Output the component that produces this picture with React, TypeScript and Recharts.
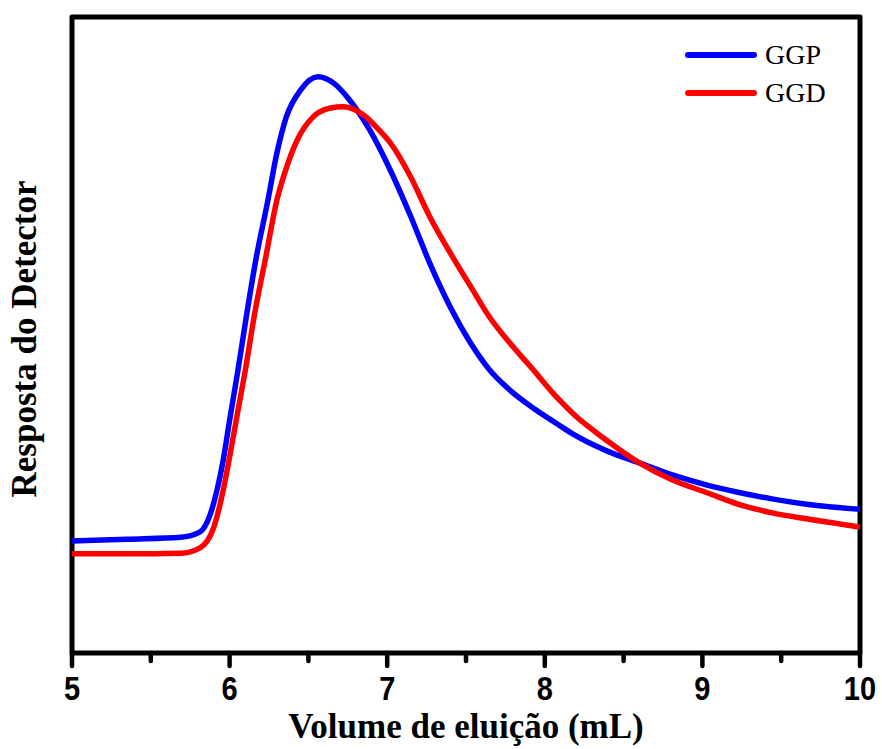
import { LineChart, Line, XAxis, YAxis, ReferenceArea, Legend } from 'recharts';

// GGP (blue) - elution volume (mL) vs detector response (arb. units)
const ggpVolume = [5.0, 5.35, 5.69, 5.81, 5.88, 5.92, 5.96, 6.0, 6.05, 6.11, 6.17, 6.24, 6.3, 6.36, 6.45, 6.56, 6.66, 6.76, 6.89, 7.02, 7.15, 7.27, 7.4, 7.53, 7.65, 7.78, 7.91, 8.08, 8.18, 8.4, 8.6, 8.81, 9.03, 9.24, 9.45, 9.66, 10.0];
const ggpResponse = [17.6, 17.9, 18.2, 19.0, 22.0, 25.6, 30.4, 36.6, 44.0, 53.5, 62.3, 70.8, 78.6, 84.3, 88.5, 90.6, 89.6, 87.0, 82.2, 75.9, 68.6, 61.3, 54.4, 48.7, 44.5, 41.3, 38.8, 36.0, 34.4, 31.7, 29.9, 28.0, 26.4, 25.2, 24.2, 23.4, 22.6];

// GGD (red)
const ggdVolume = [5.0, 5.35, 5.69, 5.81, 5.9, 5.95, 6.0, 6.05, 6.1, 6.16, 6.23, 6.3, 6.35, 6.43, 6.53, 6.64, 6.72, 6.85, 6.95, 7.02, 7.15, 7.27, 7.4, 7.53, 7.65, 7.78, 7.91, 8.08, 8.18, 8.4, 8.6, 8.81, 9.03, 9.24, 9.45, 9.66, 10.0];
const ggdResponse = [15.6, 15.6, 15.7, 16.5, 19.8, 24.5, 30.8, 37.7, 44.5, 53.5, 62.3, 71.2, 75.5, 80.7, 84.3, 85.7, 85.9, 84.6, 82.2, 80.2, 74.8, 68.6, 62.9, 57.6, 52.8, 48.7, 45.0, 40.1, 37.6, 33.3, 29.9, 27.2, 25.2, 23.3, 22.0, 21.1, 19.8];

const xTicks = [5, 5.5, 6, 6.5, 7, 7.5, 8, 8.5, 9, 9.5, 10];

const ggpData = ggpVolume.map((v, i) => ({ volume: v, response: ggpResponse[i] }));
const ggdData = ggdVolume.map((v, i) => ({ volume: v, response: ggdResponse[i] }));

const VolumeTick = ({ x, y, payload }: any) => {
    const major = Number.isInteger(payload.value);
    return (
        <g>
            <line x1={x} x2={x} y1={y} y2={y + (major ? 13 : 8)} stroke="#000" strokeWidth={4.5} strokeLinecap="round" />
            {major && (
                <text
                    transform={`translate(${x},${y + 47}) scale(0.88,1)`}
                    textAnchor="middle"
                    fontFamily="'Liberation Sans', Arial, sans-serif"
                    fontWeight="bold"
                    fontSize={33}
                    fill="#000"
                >
                    {payload.value}
                </text>
            )}
        </g>
    );
};

const titleFont = "'Liberation Serif', 'Times New Roman', serif";

const LegendBox = () => {
    const items = [
        { name: 'GGP', color: '#0000ff' },
        { name: 'GGD', color: '#ff0000' },
    ];
    return (
        <div>
            {items.map((it) => (
                <div key={it.name} style={{ display: 'flex', alignItems: 'center', height: 38 }}>
                    <svg width={84} height={12}>
                        <line x1={7} x2={73} y1={6} y2={6} stroke={it.color} strokeWidth={6} strokeLinecap="round" />
                    </svg>
                    <span style={{ fontFamily: titleFont, fontSize: 28, color: '#000', lineHeight: '38px' }}>
                        {it.name}
                    </span>
                </div>
            ))}
        </div>
    );
};

export default function App() {
    return (
        <div style={{ position: 'absolute', left: 0, top: 0, background: '#fff' }}>
            <LineChart width={882} height={749} margin={{ top: 17, right: 22, left: 72, bottom: 0 }}>
                <XAxis
                    dataKey="volume"
                    type="number"
                    domain={[5, 10]}
                    ticks={xTicks}
                    allowDataOverflow
                    height={96}
                    tickLine={false}
                    axisLine={false}
                    tickSize={0}
                    tickMargin={0}
                    tick={<VolumeTick />}
                    interval={0}
                    label={({ viewBox }: any) => (
                        <g>
                            <text
                                x={viewBox.x + viewBox.width / 2}
                                y={viewBox.y + 85}
                                textAnchor="middle"
                                fontFamily={titleFont}
                                fontWeight="bold"
                                fontSize={35}
                                fill="#000"
                            >
                                Volume de eluição (mL)
                            </text>
                            <text
                                transform="translate(36,339) rotate(-90)"
                                textAnchor="middle"
                                fontFamily={titleFont}
                                fontWeight="bold"
                                fontSize={35}
                                fill="#000"
                            >
                                Resposta do Detector
                            </text>
                        </g>
                    )}
                />
                <YAxis type="number" domain={[0, 100]} hide />
                <ReferenceArea x1={5} x2={10} y1={0} y2={100} fill="none" stroke="#000" strokeWidth={5} strokeLinejoin="round" ifOverflow="visible" />
                <Line data={ggpData} dataKey="response" type="monotone" stroke="#0000ff" strokeWidth={5.5} dot={false} isAnimationActive={false} name="GGP" />
                <Line data={ggdData} dataKey="response" type="monotone" stroke="#ff0000" strokeWidth={5.5} dot={false} isAnimationActive={false} name="GGD" />
                <Legend
                    layout="vertical"
                    align="center"
                    verticalAlign="middle"
                    content={<LegendBox />}
                    wrapperStyle={{ top: 36, left: 681, width: 'auto' }}
                />
            </LineChart>
        </div>
    );
}
